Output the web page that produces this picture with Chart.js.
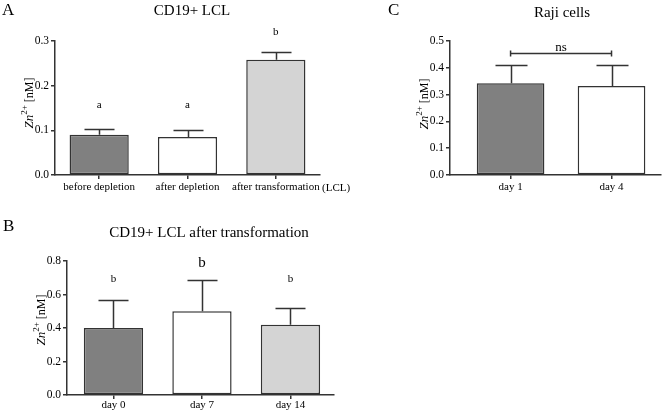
<!DOCTYPE html>
<html><head><meta charset="utf-8">
<script src="https://cdn.jsdelivr.net/npm/chart.js@4.4.1/dist/chart.umd.min.js"></script>
<style>
html,body{margin:0;padding:0;background:#fff;width:664px;height:414px;overflow:hidden}
canvas{position:absolute;left:0;top:0}
</style></head><body>
<canvas id="cA" width="664" height="414"></canvas>
<canvas id="cB" width="664" height="414"></canvas>
<canvas id="cC" width="664" height="414"></canvas>
<script>
// ---- data ----
const catA = ['before depletion', 'after depletion', 'after transformation'];
const meanA = [0.090, 0.085, 0.258];
const semA = [0.014, 0.0165, 0.017];
const sigA = ['a', 'a', 'b'];
const ticksA = [0, 0.1, 0.2, 0.3];

const catB = ['day 0', 'day 7', 'day 14'];
const meanB = [0.40, 0.50, 0.42];
const semB = [0.165, 0.185, 0.10];
const sigB = ['b', 'b', 'b'];
const ticksB = [0, 0.2, 0.4, 0.6, 0.8];

const catC = ['day 1', 'day 4'];
const meanC = [0.342, 0.332];
const semC = [0.067, 0.077];
const ticksC = [0, 0.1, 0.2, 0.3, 0.4, 0.5];

const fills = ['#808080', '#ffffff', '#d4d4d4'];

// ---- style ----
const SERIF = "'Liberation Serif', 'Times New Roman', serif";
const INK = '#333333';
const TXT = '#000000';
Chart.defaults.font.family = SERIF;
Chart.defaults.color = TXT;

const panelPlugin = {
  id: 'panel',
  afterDatasetsDraw(chart, args, o) {
    const ctx = chart.ctx, y = chart.scales.y, meta = chart.getDatasetMeta(0);
    const ds = chart.data.datasets[0];
    ctx.save();
    ctx.strokeStyle = INK; ctx.lineWidth = 1.5; ctx.lineCap = 'butt';
    meta.data.forEach((bar, i) => {
      const top = Math.round(y.getPixelForValue(ds.data[i] + o.err[i])) + 0.5;
      const base = y.getPixelForValue(ds.data[i]);
      const x = Math.round(bar.x) + 0.5;
      ctx.beginPath();
      ctx.moveTo(x, base); ctx.lineTo(x, top);
      ctx.moveTo(x - o.cap / 2, top); ctx.lineTo(x + o.cap / 2, top);
      ctx.stroke();
    });
    ctx.fillStyle = TXT; ctx.textAlign = 'center'; ctx.textBaseline = 'middle';
    (o.sig || []).forEach((s, i) => {
      ctx.font = o.sigSize[i] + 'px ' + SERIF;
      ctx.fillText(s, meta.data[i].x, y.getPixelForValue(o.sigAt[i]));
    });
    if (o.bracket) {
      const by = Math.round(y.getPixelForValue(o.bracket.at)) + 0.5;
      const x0 = meta.data[0].x, x1 = meta.data[1].x;
      ctx.beginPath();
      ctx.moveTo(x0, by - 3); ctx.lineTo(x0, by + 3);
      ctx.moveTo(x0, by); ctx.lineTo(x1, by);
      ctx.moveTo(x1, by - 3); ctx.lineTo(x1, by + 3);
      ctx.stroke();
      ctx.font = '13px ' + SERIF;
      ctx.textBaseline = 'alphabetic';
      ctx.fillText(o.bracket.text, (x0 + x1) / 2, by - 3);
    }
    ctx.restore();
  },
  afterDraw(chart, args, o) {
    const ctx = chart.ctx;
    ctx.save();
    ctx.fillStyle = TXT; ctx.textBaseline = 'middle';
    ctx.textAlign = 'center';
    ctx.font = '15px ' + SERIF;
    ctx.fillText(o.title.text, o.title.x, o.title.y);
    ctx.textAlign = 'left';
    ctx.font = '17px ' + SERIF;
    ctx.fillText(o.letter.text, o.letter.x, o.letter.y);
    if (o.extra) {
      ctx.font = '11px ' + SERIF;
      ctx.fillText(o.extra.text, o.extra.x, o.extra.y);
    }
    const parts = [
      { t: 'Zn', f: 'italic 13px ' + SERIF, dy: 0 },
      { t: '2+', f: '9px ' + SERIF, dy: -6 },
      { t: ' [nM]', f: '12px ' + SERIF, dy: 0 }
    ];
    let total = 0;
    parts.forEach(p => { ctx.font = p.f; p.w = ctx.measureText(p.t).width; total += p.w; });
    ctx.translate(o.ylab.x, o.ylab.y);
    ctx.rotate(-Math.PI / 2);
    ctx.textBaseline = 'alphabetic'; ctx.textAlign = 'left';
    let cx = -total / 2;
    parts.forEach(p => { ctx.font = p.f; ctx.fillText(p.t, cx, p.dy); cx += p.w; });
    ctx.restore();
  }
};

function scalesFor(ticks, xPad, xHeight, xHook) {
  const step = ticks[1] - ticks[0];
  const x = {
    type: 'category',
    offset: true,
    grid: { display: true, drawOnChartArea: false, drawTicks: true, tickLength: 4, offset: false, color: INK, lineWidth: 1.5 },
    border: { display: true, color: INK, width: 1.5 },
    ticks: { font: { size: 11 }, color: TXT, padding: xPad, maxRotation: 0, autoSkip: false },
    afterFit: s => { s.height = xHeight; }
  };
  if (xHook) x.afterBuildTicks = xHook;
  return {
    x,
    y: {
      min: ticks[0], max: ticks[ticks.length - 1],
      grid: { display: true, drawOnChartArea: false, drawTicks: true, tickLength: 4, color: INK, lineWidth: 1.5 },
      border: { display: true, color: INK, width: 1.5 },
      ticks: { stepSize: step, font: { size: 11.5 }, color: TXT, padding: 2, callback: v => Number(v).toFixed(1) },
      afterFit: s => { s.width = 40; }
    }
  };
}

function makeChart(id, cats, means, pad, scales, panelOpts) {
  return new Chart(document.getElementById(id), {
    type: 'bar',
    data: {
      labels: cats,
      datasets: [{
        data: means,
        backgroundColor: fills.slice(0, means.length),
        borderColor: INK,
        borderWidth: 1.5,
        borderSkipped: false,
        categoryPercentage: 1,
        barPercentage: 0.67
      }]
    },
    options: {
      responsive: false,
      animation: false,
      layout: { padding: pad },
      plugins: { legend: { display: false }, tooltip: { enabled: false }, title: { display: false }, panel: panelOpts },
      scales
    },
    plugins: [panelPlugin]
  });
}

// Panel A
makeChart('cA', catA, meanA,
  { left: 15, right: 344, top: 41, bottom: 219 },
  scalesFor(ticksA, 2, 20),
  {
    err: semA, cap: 30, sig: sigA, sigSize: [11, 11, 11], sigAt: [0.157, 0.157, 0.320],
    title: { text: 'CD19+ LCL', x: 192, y: 11 },
    letter: { text: 'A', x: 2, y: 11 },
    extra: { text: '(LCL)', x: 322, y: 188 },
    ylab: { x: 33, y: 103 }
  });

// Panel B
makeChart('cB', catB, meanB,
  { left: 27, right: 330, top: 261, bottom: 0 },
  scalesFor(ticksB, 0, 19, s => { s._startValue = -0.525; s._valueRange = 3.017; }),
  {
    err: semB, cap: 30, sig: sigB, sigSize: [11, 15, 11], sigAt: [0.690, 0.79, 0.690],
    title: { text: 'CD19+ LCL after transformation', x: 209, y: 233 },
    letter: { text: 'B', x: 3, y: 227 },
    ylab: { x: 45, y: 320 }
  });

// Panel C
makeChart('cC', catC, meanC,
  { left: 410, right: 3, top: 41, bottom: 219 },
  scalesFor(ticksC, 2, 20, s => { s._startValue = -0.6; s._valueRange = 2.09; }),
  {
    err: semC, cap: 32, bracket: { at: 0.457, text: 'ns' },
    title: { text: 'Raji cells', x: 562, y: 13 },
    letter: { text: 'C', x: 388, y: 11 },
    ylab: { x: 428, y: 104 }
  });
</script>
</body></html>
